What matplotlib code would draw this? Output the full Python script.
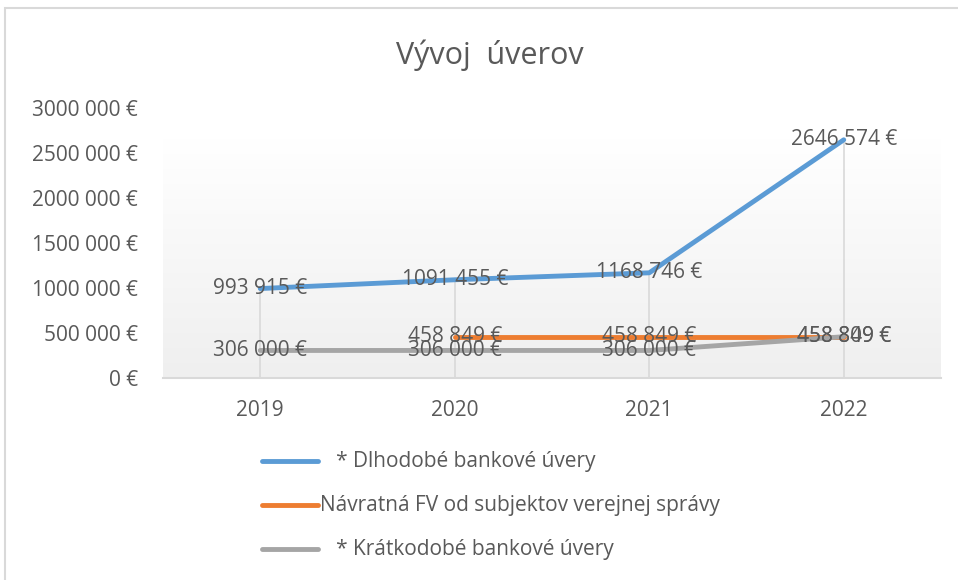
"""Line chart: Vývoj úverov (Excel-style look)."""

import matplotlib

matplotlib.use("Agg")
import matplotlib.pyplot as plt
import numpy as np
from matplotlib.lines import Line2D
from matplotlib.patches import Rectangle

YEARS = ["2019", "2020", "2021", "2022"]
LONG_TERM = [993915, 1091455, 1168746, 2646574]
PUBLIC_FV = [np.nan, 458849, 458849, 458849]
SHORT_TERM = [306000, 306000, 306000, 458809]

SERIES_NAMES = [
    "   * Dlhodobé bankové úvery",
    "Návratná FV od subjektov verejnej správy",
    "   * Krátkodobé bankové úvery",
]
COLORS = ["#5B9BD5", "#ED7D31", "#A5A5A5"]
YTICKS = [0, 500000, 1000000, 1500000, 2000000, 2500000, 3000000]

TEXT = "#595959"
FS = 15
W, H = 958, 580


def eur(v):
    v = int(round(v))
    if v < 1000:
        return f"{v} €"
    return f"{v // 1000} {v % 1000:03d} €"


plt.rcParams["font.family"] = ["Open Sans", "DejaVu Sans"]

fig = plt.figure(figsize=(W / 100, H / 100), dpi=100)

# chart border (only top/left visible in the crop)
fig.patches.append(
    Rectangle((5 / W, -0.1), 1.2, 1.1 - 8 / H, transform=fig.transFigure,
              fill=False, edgecolor="#d9d9d9", linewidth=1.5)
)

left, right, bottom, top = 163, 941, 378, 108
ax = fig.add_axes([left / W, 1 - bottom / H, (right - left) / W, (bottom - top) / H])
ax.set_xlim(-0.5, 3.5)
ax.set_ylim(0, 3000000)

# plot area gradient
grad = np.linspace(0, 1, 256).reshape(-1, 1)
ax.imshow(grad, cmap=matplotlib.colors.LinearSegmentedColormap.from_list(
    "g", ["#efefef", "#ffffff"]), extent=(-0.5, 3.5, 0, 2650000),
    origin="lower", aspect="auto", zorder=0)

x = np.arange(len(YEARS))
all_vals = np.array([LONG_TERM, PUBLIC_FV, SHORT_TERM], dtype=float)
tops = np.nanmax(all_vals, axis=0)
ax.vlines(x, 0, tops, color="#d9d9d9", linewidth=1.2, zorder=1)

for vals, name, color in zip(all_vals, SERIES_NAMES, COLORS):
    ax.plot(x, vals, color=color, linewidth=3.5, solid_capstyle="round",
            zorder=3, label=name)
for vals in all_vals:
    for xi, v in zip(x, vals):
        if np.isnan(v):
            continue
        ax.text(xi, v, eur(v), ha="center", va="center", fontsize=FS,
                color=TEXT, zorder=4)

for s in ["top", "right", "left"]:
    ax.spines[s].set_visible(False)
ax.spines["bottom"].set_color("#d9d9d9")
ax.spines["bottom"].set_linewidth(1.5)
ax.set_xticks(x, YEARS)
ax.set_yticks(YTICKS, [eur(v) for v in YTICKS])
ax.tick_params(axis="both", length=0, colors=TEXT, labelsize=FS)
ax.tick_params(axis="y", pad=18)
ax.tick_params(axis="x", pad=16)

fig.text(490 / W, 1 - 55 / H, "Vývoj  úverov", ha="center", va="center",
         fontsize=22, color=TEXT)

# legend
ys = [461, 505, 549]
for name, color, yy in zip(SERIES_NAMES, COLORS, ys):
    fig.add_artist(Line2D([262 / W, 318 / W], [1 - yy / H, 1 - yy / H],
                          transform=fig.transFigure, color=color, linewidth=3.5,
                          solid_capstyle="round"))
    fig.text(320 / W, 1 - yy / H, name, ha="left", va="center", fontsize=FS,
             color=TEXT)

fig.savefig("out.png", dpi=100)
